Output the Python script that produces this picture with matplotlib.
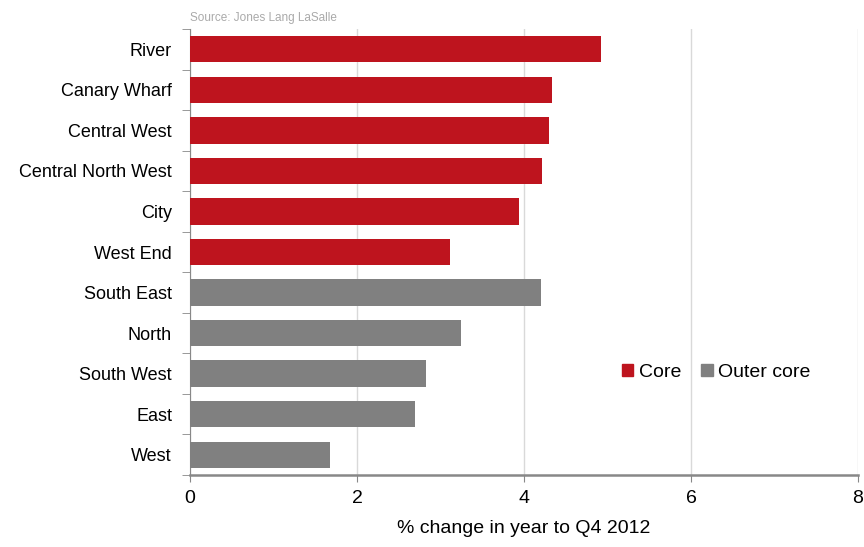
import numpy as np
import matplotlib.pyplot as plt
from matplotlib.patches import Patch

plt.rcParams['font.family'] = ['Liberation Sans', 'DejaVu Sans']

core_names = ['River', 'Canary Wharf', 'Central West', 'Central North West', 'City', 'West End']
core_vals = [4.92, 4.33, 4.30, 4.22, 3.94, 3.11]
outer_names = ['South East', 'North', 'South West', 'East', 'West']
outer_vals = [4.20, 3.25, 2.83, 2.69, 1.68]

red = '#BE141E'
grey = '#808080'

names = core_names + outer_names
vals = core_vals + outer_vals
colors = [red] * len(core_names) + [grey] * len(outer_names)
y = np.arange(len(names))[::-1]

fig = plt.figure(figsize=(8.64, 5.47), dpi=100)
ax = fig.add_axes([0.22, 0.1316, 0.773, 0.8154])

ax.barh(y, vals, height=0.65, color=colors, zorder=3)
ax.set_ylim(-0.5, len(names) - 0.5)
ax.set_xlim(0, 8)
ax.set_xticks([0, 2, 4, 6, 8])
ax.set_yticks(y)
ax.set_yticklabels(names, fontsize=13)
ax.tick_params(axis='y', length=0, pad=13)
ax.tick_params(axis='x', labelsize=14, length=5, color='#888888', pad=6)
# small ticks on the category boundaries
ax.set_yticks(np.arange(-0.5, len(names), 1), minor=True)
ax.tick_params(axis='y', which='minor', length=6, color='#888888')
ax.xaxis.grid(True, color='#d9d9d9', linewidth=1, zorder=0)

for s in ['top', 'right']:
    ax.spines[s].set_visible(False)
ax.spines['left'].set_color('#888888')
ax.spines['bottom'].set_color('#888888')
ax.spines['bottom'].set_linewidth(1.8)

ax.set_xlabel('% change in year to Q4 2012', fontsize=14, labelpad=9)

handles = [Patch(color=red, label='Core'), Patch(color=grey, label='Outer core')]
ax.legend(handles=handles, loc='center left', bbox_to_anchor=(0.62, 0.23), ncol=2,
          frameon=False, fontsize=14, handlelength=0.6, handleheight=0.6,
          handletextpad=0.3, columnspacing=1.0)

fig.text(0.22, 0.962, 'Source: Jones Lang LaSalle', fontsize=8.5, color='#aaaaaa')

fig.savefig('out.png', dpi=100)
